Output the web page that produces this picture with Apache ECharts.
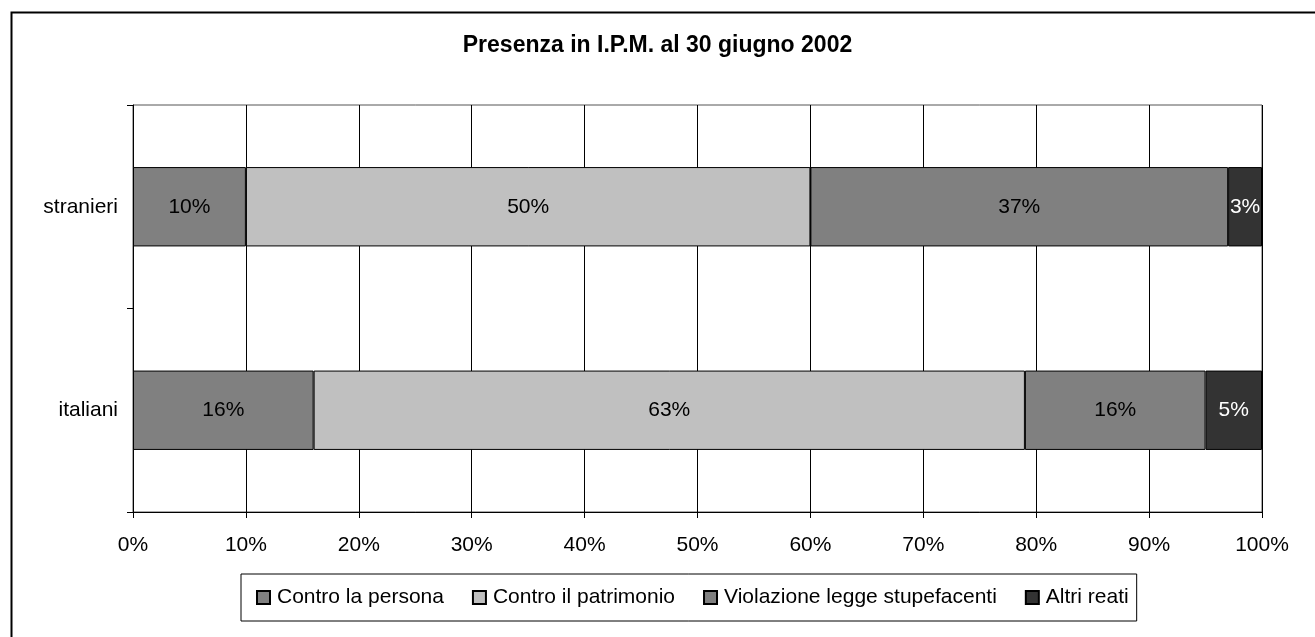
<!DOCTYPE html>
<html>
<head>
<meta charset="utf-8">
<title>Presenza in I.P.M. al 30 giugno 2002</title>
<script src="https://cdn.jsdelivr.net/npm/echarts@6/dist/echarts.min.js"></script>
<style>
  html, body { margin: 0; padding: 0; background: #fff; }
  #chart { width: 1315px; height: 637px; }
</style>
</head>
<body>
<div id="chart"></div>
<script>
// Categories listed bottom-to-top (category axis grows upward)
const categories = ['italiani', 'stranieri'];

// Percent shares per offence type
const controPersona    = [16, 10];
const controPatrimonio = [63, 50];
const violazioneStup   = [16, 37];
const altriReati       = [5, 3];

const seriesNames = ['Contro la persona', 'Contro il patrimonio', 'Violazione legge stupefacenti', 'Altri reati'];
const seriesColors = ['#808080', '#c0c0c0', '#808080', '#333333'];
const labelColors = ['#000', '#000', '#000', '#fff'];

// Axis tick values (percent)
const xTicks = [0, 10, 20, 30, 40, 50, 60, 70, 80, 90, 100];

const FONT = '"Liberation Sans", Arial, sans-serif';

const chart = echarts.init(document.getElementById('chart'), null, { renderer: 'canvas' });

const seriesData = [controPersona, controPatrimonio, violazioneStup, altriReati];

const option = {
  animation: false,
  backgroundColor: '#fff',
  textStyle: { fontFamily: FONT },
  title: {
    text: 'Presenza in I.P.M. al 30 giugno 2002',
    left: 'center',
    top: 34,
    padding: 0,
    textStyle: { fontFamily: FONT, fontSize: 23, fontWeight: 'bold', color: '#000' }
  },
  graphic: [{
    type: 'rect',
    left: 9,
    top: 10,
    z: -10,
    shape: { width: 1400, height: 700 },
    style: { fill: 'none', stroke: '#000', lineWidth: 2 }
  }],
  legend: {
    data: seriesNames,
    left: 241,
    top: 574,
    orient: 'horizontal',
    padding: [13, 8, 13, 15],
    itemGap: 28,
    itemWidth: 13,
    itemHeight: 13,
    borderColor: '#000',
    borderWidth: 1,
    icon: 'rect',
    textStyle: { fontFamily: FONT, fontSize: 21, color: '#000', padding: [0, 0, 0, 2] }
  },
  grid: {
    left: 133,
    right: 53,
    top: 105,
    bottom: 125,
    show: true,
    borderColor: '#555',
    borderWidth: 1,
    containLabel: false
  },
  xAxis: {
    type: 'value',
    min: xTicks[0],
    max: xTicks[xTicks.length - 1],
    interval: xTicks[1] - xTicks[0],
    axisLine: { show: true, lineStyle: { color: '#000', width: 1 } },
    axisTick: { show: true, length: 6, lineStyle: { color: '#000' } },
    axisLabel: {
      margin: 23,
      formatter: '{value}%',
      fontFamily: FONT, fontSize: 21, color: '#000'
    },
    splitLine: { show: true, lineStyle: { color: '#000', width: 1 } }
  },
  yAxis: {
    type: 'category',
    data: categories,
    axisLine: { show: true, lineStyle: { color: '#000', width: 1 } },
    axisTick: { show: true, length: 6, alignWithLabel: false, lineStyle: { color: '#000' } },
    axisLabel: { margin: 15, fontFamily: FONT, fontSize: 21, color: '#000' },
    splitLine: { show: false }
  },
  series: seriesNames.map((name, i) => ({
    name: name,
    type: 'bar',
    stack: 'total',
    barWidth: '39%',
    data: seriesData[i],
    itemStyle: { color: seriesColors[i], borderColor: '#000', borderWidth: 1 },
    label: {
      show: true,
      position: 'inside',
      formatter: '{c}%',
      fontFamily: FONT,
      fontSize: 21,
      color: labelColors[i]
    },
    emphasis: { disabled: true }
  }))
};

chart.setOption(option);
</script>
</body>
</html>
